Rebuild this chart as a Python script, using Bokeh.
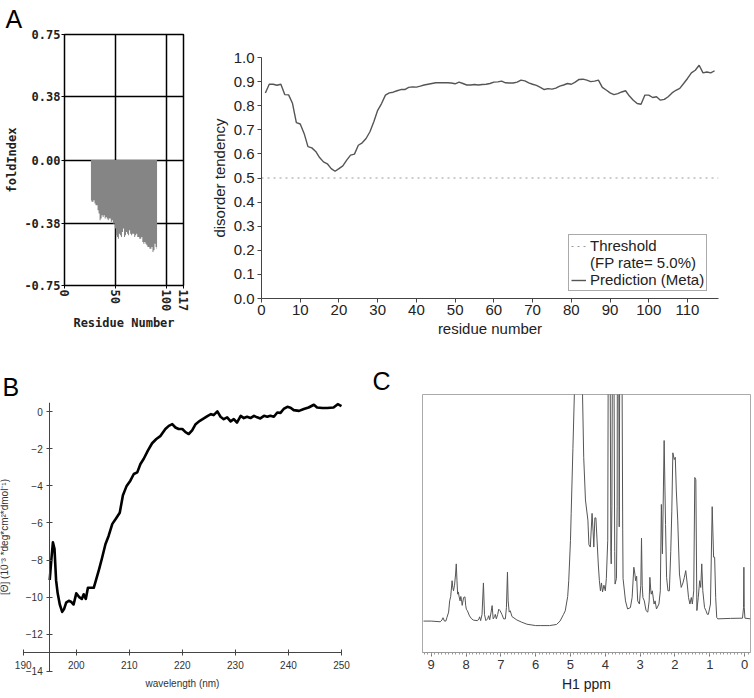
from bokeh.plotting import figure
from bokeh.layouts import column, row
from bokeh.models import (Range1d, LinearAxis, FixedTicker, PrintfTickFormatter,
                          Legend, LegendItem, ColumnDataSource)
from bokeh.embed import file_html
from bokeh.resources import INLINE

# ---------------- data ----------------
# Panel A (left): FoldIndex
fold_residue = list(range(26, 92))
fold_index = [-0.24, -0.25, -0.25, -0.24, -0.26, -0.27, -0.27, -0.30, -0.32, -0.36,
              -0.35, -0.33, -0.34, -0.33, -0.35, -0.34, -0.35, -0.36, -0.35, -0.35,
              -0.37, -0.36, -0.38, -0.38, -0.41, -0.45, -0.46, -0.47, -0.44, -0.45,
              -0.46, -0.43, -0.41, -0.46, -0.45, -0.43, -0.44, -0.45, -0.42, -0.44,
              -0.45, -0.44, -0.44, -0.46, -0.45, -0.44, -0.46, -0.46, -0.47, -0.47,
              -0.46, -0.49, -0.50, -0.49, -0.50, -0.51, -0.52, -0.52, -0.53, -0.53,
              -0.52, -0.55, -0.54, -0.50, -0.52, -0.53]
fold_xlim = (0, 117)
fold_ylim = (-0.75, 0.75)
fold_xticks = [0, 50, 100, 117]
fold_yticks = [-0.75, -0.38, 0.0, 0.38, 0.75]

# Panel A (right): disorder prediction
dis_residue = list(range(1, 118))
dis_value = [0.853, 0.889, 0.889, 0.885, 0.889, 0.846, 0.845, 0.810, 0.730, 0.724,
             0.685, 0.630, 0.625, 0.610, 0.585, 0.567, 0.559, 0.539, 0.528, 0.539,
             0.550, 0.574, 0.595, 0.599, 0.636, 0.646, 0.664, 0.692, 0.733, 0.781,
             0.809, 0.844, 0.853, 0.856, 0.862, 0.867, 0.867, 0.876, 0.878, 0.877,
             0.881, 0.886, 0.889, 0.892, 0.895, 0.895, 0.895, 0.895, 0.894, 0.891,
             0.898, 0.892, 0.886, 0.886, 0.888, 0.886, 0.888, 0.889, 0.892, 0.898,
             0.899, 0.902, 0.895, 0.894, 0.894, 0.898, 0.906, 0.903, 0.895, 0.889,
             0.884, 0.876, 0.867, 0.871, 0.869, 0.873, 0.881, 0.886, 0.892, 0.889,
             0.898, 0.909, 0.910, 0.906, 0.900, 0.902, 0.906, 0.876, 0.865, 0.853,
             0.846, 0.850, 0.857, 0.862, 0.840, 0.823, 0.809, 0.806, 0.844, 0.844,
             0.834, 0.837, 0.823, 0.826, 0.837, 0.853, 0.864, 0.872, 0.892, 0.913,
             0.936, 0.947, 0.968, 0.936, 0.940, 0.936, 0.945]
dis_threshold = 0.5
dis_xlim = (0, 118)
dis_ylim = (0.0, 1.0)
dis_xticks = [0, 10, 20, 30, 40, 50, 60, 70, 80, 90, 100, 110]
dis_yticks = [0.0, 0.1, 0.2, 0.3, 0.4, 0.5, 0.6, 0.7, 0.8, 0.9, 1.0]

# Panel B: CD spectrum
cd_wavelength = [195.0, 195.3, 195.6, 195.9, 196.2, 196.5, 196.9, 197.35, 197.7, 198.1,
                 198.6, 199.0, 199.5, 200.0, 200.55, 201.05, 201.4, 201.8, 202.2, 202.7,
                 203.3, 203.8, 204.3, 204.9, 205.5, 206.1, 206.8, 207.4, 208.2, 208.8,
                 209.5, 210.2, 210.85, 211.5, 212.1, 212.7, 213.5, 214.3, 215.1, 215.9,
                 216.8, 217.45, 218.1, 218.7, 219.3, 220.0, 220.6, 221.2, 221.85, 222.5,
                 223.3, 224.05, 224.8, 225.4, 225.9, 226.6, 227.2, 227.8, 228.45, 229.1,
                 229.7, 230.3, 231.0, 231.6, 232.2, 232.85, 233.5, 234.1, 234.7, 235.4,
                 236.0, 236.6, 237.25, 237.9, 238.5, 239.1, 239.8, 240.4, 241.0, 242.0,
                 242.9, 243.8, 244.8, 245.4, 246.4, 247.3, 248.5, 249.3, 250.0]
cd_theta = [-9.08, -8.0, -7.05, -7.4, -9.1, -9.8, -10.4, -10.8, -10.65, -10.3,
            -10.2, -10.25, -10.4, -9.8, -10.0, -10.1, -9.85, -10.1, -9.5, -9.5,
            -9.5, -9.0, -8.5, -7.85, -7.15, -6.7, -6.05, -5.8, -5.45, -4.5,
            -4.0, -3.72, -3.36, -3.27, -2.82, -2.55, -2.1, -1.7, -1.47, -1.3,
            -0.93, -0.76, -0.67, -0.85, -0.93, -0.93, -1.1, -1.2, -1.0, -0.67,
            -0.49, -0.36, -0.22, -0.13, -0.18, 0.02, -0.27, -0.4, -0.3, -0.52,
            -0.4, -0.58, -0.22, -0.34, -0.27, -0.34, -0.22, -0.3, -0.36, -0.22,
            -0.27, -0.22, -0.27, -0.04, -0.06, 0.15, 0.27, 0.22, 0.09, 0.05,
            0.15, 0.23, 0.38, 0.23, 0.2, 0.2, 0.23, 0.41, 0.3]
cd_xlim = (190, 250)          # extent of the wavelength axis
cd_ylim = (-14, 0.5)          # extent of the ellipticity axis
cd_xticks = [190, 200, 210, 220, 230, 240, 250]
cd_yticks = [0, -2, -4, -6, -8, -10, -12, -14]
cd_cross_x = 195              # wavelength where the y axis crosses
cd_cross_y = -13              # value where the x axis crosses
cd_view_x = (185.72, 251.7)   # visible window (room for the axis texts)
cd_view_y = (-15.15, 0.5)

# Panel C: 1H NMR spectrum (relative intensity; tall peaks run off the top)
nmr_ppm = [9.22, 9.0, 8.74, 8.69, 8.66, 8.62, 8.58, 8.55, 8.5, 8.47,
           8.44, 8.40, 8.38, 8.36, 8.33, 8.30, 8.28, 8.26, 8.24, 8.22,
           8.2, 8.17, 8.15, 8.13, 8.11, 8.07, 8.03, 8.01, 7.99, 7.96,
           7.9, 7.84, 7.78, 7.67, 7.63, 7.61, 7.58, 7.54, 7.5, 7.47,
           7.43, 7.38, 7.35, 7.32, 7.28, 7.25, 7.22, 7.18, 7.16, 7.13,
           7.09, 7.06, 7.02, 6.97, 6.92, 6.87, 6.84, 6.81, 6.79, 6.76,
           6.73, 6.68, 6.54, 6.4, 6.25, 6.0, 5.87, 5.6, 5.4, 5.3,
           5.2, 5.15, 5.08, 5.05, 5.0, 4.98, 4.93, 4.88, 4.85, 4.7,
           4.66, 4.62, 4.57, 4.5, 4.47, 4.43, 4.38, 4.35, 4.33, 4.3,
           4.27, 4.24, 4.2, 4.17, 4.14, 4.11, 4.08, 4.04, 4.0, 3.97,
           3.93, 3.91, 3.87, 3.84, 3.83, 3.81, 3.79, 3.76, 3.73, 3.72,
           3.68, 3.66, 3.65, 3.62, 3.60, 3.58, 3.53, 3.5, 3.49, 3.42,
           3.36, 3.28, 3.23, 3.18, 3.15, 3.13, 3.10, 3.07, 3.02, 2.98,
           2.96, 2.94, 2.92, 2.88, 2.83, 2.78, 2.74, 2.72, 2.69, 2.68,
           2.65, 2.6, 2.57, 2.53, 2.46, 2.42, 2.39, 2.36, 2.31, 2.27,
           2.24, 2.2, 2.16, 2.12, 2.09, 2.06, 2.02, 1.99, 1.96, 1.92,
           1.87, 1.82, 1.77, 1.73, 1.69, 1.65, 1.61, 1.57, 1.53, 1.5,
           1.46, 1.43, 1.4, 1.37, 1.33, 1.29, 1.26, 1.23, 1.2, 1.17,
           1.15, 1.11, 1.07, 1.04, 0.98, 0.93, 0.89, 0.86, 0.83, 0.8,
           0.77, 0.4, 0.06, 0.03, 0.02, 0.01, -0.01, -0.17]
nmr_intensity = [-0.01, -0.01, -0.013, -0.005, 0.005, -0.01, -0.01, 0.005, 0.03, 0.08,
                 0.10, 0.17, 0.14, 0.125, 0.15, 0.20, 0.245, 0.17, 0.11, 0.12,
                 0.10, 0.08, 0.10, 0.085, 0.06, 0.095, 0.098, 0.06, 0.043, 0.036,
                 0.013, 0.0, -0.006, -0.008, 0.0, 0.009, -0.008, 0.02, 0.16, 0.02,
                 -0.008, 0.0, 0.014, -0.004, 0.03, 0.059, 0.0, 0.01, 0.02, 0.0,
                 0.02, 0.043, 0.036, 0.02, 0.0, 0.0, 0.05, 0.208, 0.08, 0.03,
                 0.036, 0.01, -0.005, -0.015, -0.024, -0.03, -0.03, -0.03, -0.025, -0.01,
                 0.02, 0.036, 0.10, 0.17, 0.35, 0.47, 0.76, 1.05, 1.5, 1.5,
                 1.05, 0.72, 0.53, 0.44, 0.33, 0.32, 0.47, 0.39, 0.32, 0.45,
                 0.45, 0.36, 0.24, 0.17, 0.125, 0.16, 0.12, 0.15, 0.125, 0.18,
                 0.35, 1.5, 1.5, 0.3, 0.245, 0.5, 1.5, 1.5, 0.3, 0.155,
                 0.18, 0.5, 1.5, 1.5, 0.41, 1.5, 1.5, 0.4, 0.18, 0.08,
                 0.044, 0.05, 0.095, 0.23, 0.2, 0.17, 0.19, 0.08, 0.066, 0.15,
                 0.36, 0.15, 0.095, 0.08, 0.037, 0.03, 0.08, 0.185, 0.12, 0.11,
                 0.125, 0.066, 0.08, 0.044, 0.066, 0.125, 0.51, 0.29, 0.795, 0.42,
                 0.185, 0.125, 0.125, 0.30, 0.48, 0.74, 0.71, 0.72, 0.57, 0.44,
                 0.20, 0.14, 0.16, 0.185, 0.215, 0.16, 0.095, 0.066, 0.095, 0.066,
                 0.125, 0.63, 0.62, 0.037, 0.095, 0.17, 0.14, 0.245, 0.125, 0.08,
                 0.05, 0.037, 0.02, 0.02, 0.066, 0.50, 0.275, 0.275, 0.095, 0.006,
                 0.0, 0.002, 0.003, 0.05, 0.23, 0.05, 0.003, 0.0]
nmr_xlim = (9.25, -0.17)
nmr_ylim = (-0.15, 1.0)
nmr_xticks = [9, 8, 7, 6, 5, 4, 3, 2, 1, 0]
nmr_minor = [round(-0.1 + 0.1 * i, 1) for i in range(94)]

SANS = "Liberation Sans"
MONO = "DejaVu Sans Mono"
COMMON = dict(output_backend="svg", toolbar_location=None)


def panel_letter(p, text, offset, standoff):
    p.title.text = text
    p.title.align = "left"
    p.title.offset = offset
    p.title.standoff = standoff
    p.title.vertical_align = "bottom"
    p.title.text_font = SANS
    p.title.text_font_size = "25px"
    p.title.text_font_style = "normal"
    p.title.text_color = "black"


# ---------------- Panel A left ----------------
f1 = figure(width=205, height=340, x_range=Range1d(*fold_xlim), y_range=Range1d(*fold_ylim),
            min_border_left=64, min_border_right=22, min_border_top=33, min_border_bottom=55,
            title="A", **COMMON)
src1 = ColumnDataSource(dict(x=fold_residue, y1=[0.0] * len(fold_residue), y2=fold_index))
f1.varea_step(x="x", y1="y1", y2="y2", step_mode="center", source=src1,
              fill_color="#858585")
f1.xaxis.ticker = FixedTicker(ticks=fold_xticks)
f1.yaxis.ticker = FixedTicker(ticks=fold_yticks)
f1.yaxis.formatter = PrintfTickFormatter(format="%.2f")
f1.xaxis.major_label_orientation = "vertical"
f1.xaxis.axis_label = "Residue Number"
f1.yaxis.axis_label = "foldIndex"
for ax in (f1.xaxis, f1.yaxis):
    ax.axis_label_text_font = MONO
    ax.axis_label_text_font_style = "bold"
    ax.axis_label_text_font_size = "12px"
    ax.axis_label_text_color = "#222222"
    ax.major_label_text_font = MONO
    ax.major_label_text_font_style = "bold"
    ax.major_label_text_font_size = "12px"
    ax.major_label_text_color = "#222222"
    ax.major_tick_in = 0
    ax.major_tick_out = 3
    ax.major_tick_line_color = "black"
    ax.minor_tick_line_color = None
    ax.axis_line_color = "black"
    ax.major_label_standoff = 1
    ax.axis_label_standoff = 2
f1.grid.grid_line_color = "black"
f1.grid.grid_line_width = 1.5
f1.outline_line_color = "black"
f1.outline_line_width = 1.5
panel_letter(f1, "A", -59, 4)

# ---------------- Panel A right ----------------
f2 = figure(width=547, height=340, x_range=Range1d(*dis_xlim), y_range=Range1d(*dis_ylim),
            min_border_left=56, min_border_right=34, min_border_top=57, min_border_bottom=42,
            **COMMON)
r_thr = f2.line(x=list(dis_xlim), y=[dis_threshold] * 2, line_color="#9a9a9a",
                line_dash="dotted", line_width=1)
r_blank = f2.line(x=list(dis_xlim), y=[dis_threshold] * 2, line_alpha=0)
r_pred = f2.line(x=dis_residue, y=dis_value, line_color="#555555", line_width=1.4)
f2.xaxis.ticker = FixedTicker(ticks=dis_xticks)
f2.yaxis.ticker = FixedTicker(ticks=dis_yticks)
f2.yaxis.formatter = PrintfTickFormatter(format="%.1f")
f2.xaxis.axis_label = "residue number"
f2.yaxis.axis_label = "disorder tendency"
for ax in (f2.xaxis, f2.yaxis):
    ax.axis_label_text_font = SANS
    ax.axis_label_text_font_style = "normal"
    ax.axis_label_text_font_size = "15px"
    ax.axis_label_text_color = "#222222"
    ax.major_label_text_font = SANS
    ax.major_label_text_font_size = "15px"
    ax.major_label_text_color = "#222222"
    ax.major_tick_in = 0
    ax.major_tick_out = 4
    ax.major_tick_line_color = "#444444"
    ax.minor_tick_line_color = None
    ax.axis_line_color = "#444444"
f2.xaxis.major_label_standoff = 2
f2.xaxis.axis_label_standoff = 2
f2.yaxis.major_label_standoff = 3
f2.yaxis.axis_label_standoff = 3
f2.xgrid.visible = False
f2.ygrid.ticker = FixedTicker(ticks=[dis_ylim[1]])
f2.ygrid.grid_line_color = "#bbbbbb"
f2.ygrid.grid_line_dash = "dotted"
f2.outline_line_color = None
legend = Legend(items=[LegendItem(label="Threshold", renderers=[r_thr]),
                       LegendItem(label="(FP rate= 5.0%)", renderers=[r_blank]),
                       LegendItem(label="Prediction (Meta)", renderers=[r_pred])],
                location=(307, 7), border_line_color="#555555", border_line_width=1,
                background_fill_color="white", background_fill_alpha=1,
                label_text_font=SANS, label_text_font_size="15px", label_text_color="#222222",
                glyph_width=15, glyph_height=14, label_height=14, label_standoff=4,
                spacing=0, padding=2, margin=0)
f2.add_layout(legend)

# ---------------- Panel B ----------------
f3 = figure(width=365, height=358, x_range=Range1d(*cd_view_x), y_range=Range1d(*cd_view_y),
            x_axis_location=None, y_axis_location=None,
            min_border_left=0, min_border_right=15, min_border_top=62, min_border_bottom=6,
            title="B", **COMMON)
f3.line(x=cd_wavelength, y=cd_theta, line_color="black", line_width=2.6, line_join="round")
xa = LinearAxis(fixed_location=cd_cross_y, bounds=cd_xlim, ticker=FixedTicker(ticks=cd_xticks),
                axis_label="wavelength (nm)")
ya = LinearAxis(fixed_location=cd_cross_x, bounds=cd_ylim, ticker=FixedTicker(ticks=cd_yticks),
                axis_label="[\u0398] (10\u207b\u00b3 *deg*cm\u00b2*dmol\u207b\u00b9)")
for ax in (xa, ya):
    ax.axis_label_text_font = SANS
    ax.axis_label_text_font_style = "normal"
    ax.axis_label_text_font_size = "10px"
    ax.axis_label_text_color = "#333333"
    ax.major_label_text_font = SANS
    ax.major_label_text_font_size = "10px"
    ax.major_label_text_color = "#333333"
    ax.major_tick_in = 3
    ax.major_tick_out = 3
    ax.major_tick_line_color = "#444444"
    ax.minor_tick_line_color = None
    ax.axis_line_color = "#444444"
xa.major_label_standoff = 5
xa.axis_label_standoff = 6
ya.major_label_standoff = 4
ya.axis_label_standoff = 13
f3.add_layout(xa, "below")
f3.add_layout(ya, "left")
f3.grid.visible = False
f3.outline_line_color = None
panel_letter(f3, "B", 2, 4)

# ---------------- Panel C ----------------
f4 = figure(width=387, height=358, x_range=Range1d(*nmr_xlim), y_range=Range1d(*nmr_ylim),
            y_axis_location=None,
            min_border_left=57, min_border_right=2, min_border_top=54, min_border_bottom=46,
            title="C", **COMMON)
f4.line(x=nmr_ppm, y=nmr_intensity, line_color="#555555", line_width=1)
f4.xaxis.ticker = FixedTicker(ticks=nmr_xticks, minor_ticks=nmr_minor)
f4.xaxis.axis_label = "H1 ppm"
f4.xaxis.axis_label_text_font = SANS
f4.xaxis.axis_label_text_font_style = "normal"
f4.xaxis.axis_label_text_font_size = "14px"
f4.xaxis.axis_label_text_color = "#222222"
f4.xaxis.major_label_text_font = SANS
f4.xaxis.major_label_text_font_size = "13px"
f4.xaxis.major_label_text_color = "#333333"
f4.xaxis.major_tick_in = 0
f4.xaxis.major_tick_out = 4
f4.xaxis.minor_tick_in = 0
f4.xaxis.minor_tick_out = 2
f4.xaxis.major_tick_line_color = "#777777"
f4.xaxis.minor_tick_line_color = "#999999"
f4.xaxis.axis_line_color = "#999999"
f4.xaxis.major_label_standoff = 3
f4.xaxis.axis_label_standoff = 4
f4.grid.visible = False
f4.outline_line_color = "#aaaaaa"
f4.outline_line_width = 1
panel_letter(f4, "C", -50, 0)

layout = column(row(column(f1), column(f2)), row(column(f3), column(f4)))
open("out.html", "w").write(file_html(layout, INLINE))
